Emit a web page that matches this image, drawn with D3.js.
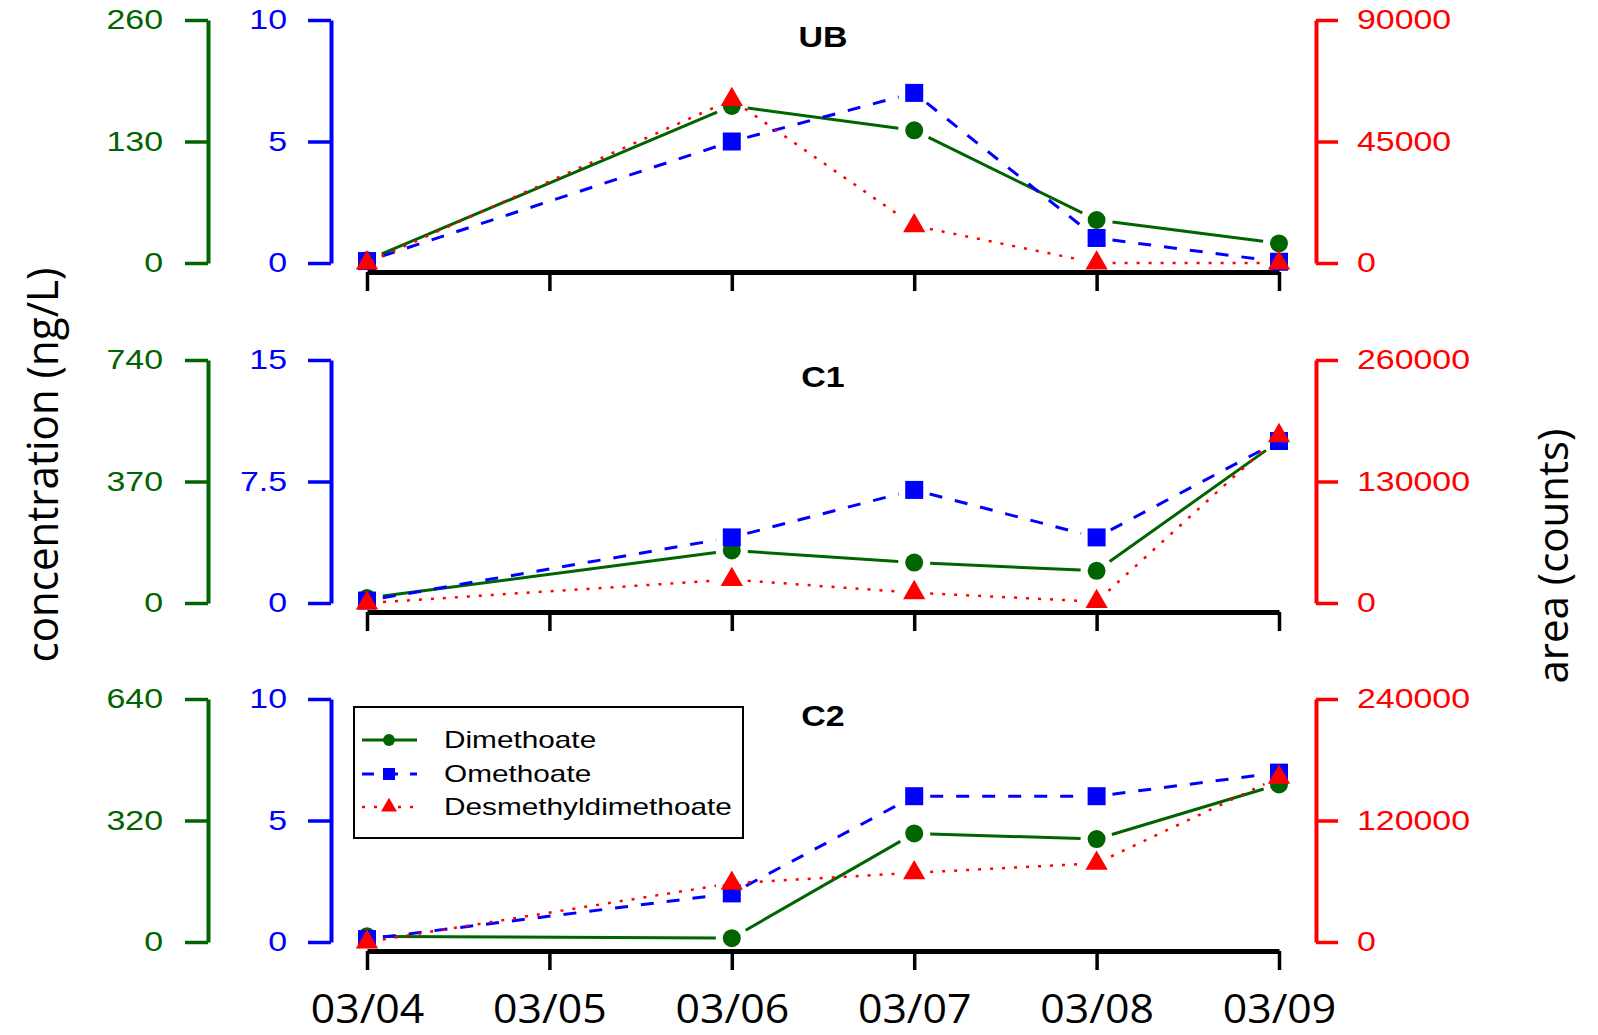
<!DOCTYPE html>
<html>
<head>
<meta charset="utf-8">
<script src="https://cdn.jsdelivr.net/npm/d3@7"></script>
<style>
  body { margin: 0; background: #fff; }
  svg { display: block; }
  text { font-family: "Liberation Sans", Arial, sans-serif; }
</style>
</head>
<body>
<script>
// sampling days (03/05 has no sample)
const dates = ["03/04", "03/05", "03/06", "03/07", "03/08", "03/09"]
const sampled = ["03/04", "03/06", "03/07", "03/08", "03/09"]
const sites = ["UB", "C1", "C2"]
const seriesNames = ["Dimethoate", "Omethoate", "Desmethyldimethoate"]

// axis maxima per site (left green, left blue, right red)
const greenMax = [260, 740, 640]
const blueMax = [10, 15, 10]
const redMax = [90000, 260000, 240000]

// values
const ubDimethoate = [3, 168, 142, 46, 21]
const ubOmethoate = [0.08, 5.0, 7.0, 1.03, 0.05]
const ubDesmethyl = [0, 60500, 13800, 0, 0]

const c1Dimethoate = [15, 160, 123, 98, 493]
const c1Omethoate = [0.15, 4.05, 6.98, 4.05, 10.0]
const c1Desmethyl = [0, 25000, 11000, 1500, 179000]

const c2Dimethoate = [15, 10, 286, 271, 415]
const c2Omethoate = [0.12, 2.0, 6.0, 6.0, 6.97]
const c2Desmethyl = [0, 58000, 68400, 77700, 162700]

const width = 1598, height = 1035
const panelTops = [20, 360, 699]
const panelH = 243
const green = '#006400', blue = '#0000ff', red = '#ff0000'

const svg = d3.select('body').append('svg')
  .attr('width', width)
  .attr('height', height)

const x = d3.scalePoint().domain(dates).range([367, 1279])

const panels = [
  {site: sites[0], vals: [ubDimethoate, ubOmethoate, ubDesmethyl]},
  {site: sites[1], vals: [c1Dimethoate, c1Omethoate, c1Desmethyl]},
  {site: sites[2], vals: [c2Dimethoate, c2Omethoate, c2Desmethyl]}
]

const styles = [
  {color: green, width: 3, dash: null, symbol: d3.symbolCircle, size: 254},
  {color: blue, width: 3, dash: '13,13', symbol: d3.symbolSquare, size: 324},
  {color: red, width: 2.5, dash: '3,9', symbol: d3.symbolTriangle, size: 215}
]

// the original figure is a bit wider than tall, so widen the text
function stretch(sel, k) {
  sel.each(function() {
    const w = this.getComputedTextLength()
    d3.select(this).attr('textLength', w * k).attr('lengthAdjust', 'spacingAndGlyphs')
  })
}

// R type="b" style: line segments stop short of the points
function gapped(pts, gap) {
  let segs = []
  for (let i = 0; i < pts.length - 1; i++) {
    const [x1, y1] = pts[i], [x2, y2] = pts[i + 1]
    const len = Math.hypot(x2 - x1, y2 - y1)
    if (len <= 2 * gap) continue
    const ux = (x2 - x1) / len, uy = (y2 - y1) / len
    segs.push([x1 + ux * gap, y1 + uy * gap, x2 - ux * gap, y2 - uy * gap])
  }
  return segs
}

function styleAxis(g, color, w) {
  g.select('.domain').attr('stroke', color).attr('stroke-width', w)
  g.selectAll('.tick line').attr('stroke', color).attr('stroke-width', 3.5)
  g.selectAll('.tick text').attr('fill', color).attr('font-size', 28)
  stretch(g.selectAll('.tick text'), 1.21)
}

panels.forEach((p, i) => {
  const top = panelTops[i]
  const zero = top + panelH
  const yG = d3.scaleLinear().domain([0, greenMax[i]]).range([zero, top])
  const yB = d3.scaleLinear().domain([0, blueMax[i]]).range([zero, top])
  const yR = d3.scaleLinear().domain([0, redMax[i]]).range([zero, top])
  const scales = [yG, yB, yR]

  const gG = svg.append('g').attr('transform', `translate(208,0)`)
    .call(d3.axisLeft(yG).tickValues([0, greenMax[i] / 2, greenMax[i]])
      .tickSize(23).tickSizeOuter(0).tickPadding(22).tickFormat(d => String(d)))
  styleAxis(gG, green, 4)

  const gB = svg.append('g').attr('transform', `translate(331,0)`)
    .call(d3.axisLeft(yB).tickValues([0, blueMax[i] / 2, blueMax[i]])
      .tickSize(23).tickSizeOuter(0).tickPadding(21).tickFormat(d => String(d)))
  styleAxis(gB, blue, 4)

  const gR = svg.append('g').attr('transform', `translate(1316,0)`)
    .call(d3.axisRight(yR).tickValues([0, redMax[i] / 2, redMax[i]])
      .tickSize(22).tickSizeOuter(0).tickPadding(19).tickFormat(d => String(d)))
  styleAxis(gR, red, 4)

  const gX = svg.append('g').attr('transform', `translate(0,${zero + 9})`)
    .call(d3.axisBottom(x).tickSize(19).tickSizeOuter(0))
  gX.select('.domain').attr('stroke', '#000').attr('stroke-width', 5)
  gX.selectAll('.tick line').attr('stroke', '#000').attr('stroke-width', 3.5)
  if (i === 2) {
    const lab = gX.selectAll('.tick text')
      .attr('fill', '#000')
      .attr('y', 1023 - (zero + 9))
      .attr('dy', null)
      .style('font-family', '"Open Sans", sans-serif')
      .attr('font-size', 40)
    stretch(lab, 1.07)
  } else {
    gX.selectAll('.tick text').remove()
  }

  const title = svg.append('text')
    .attr('x', 823).attr('y', top + 27)
    .attr('text-anchor', 'middle')
    .attr('font-weight', 'bold')
    .attr('font-size', 29)
    .text(p.site)
  stretch(title, 1.17)

  // lines first, then markers (green, blue, red on top)
  p.vals.forEach((vals, k) => {
    const st = styles[k]
    const pts = sampled.map((d, j) => [x(d), scales[k](vals[j])])
    svg.append('g').selectAll('line')
      .data(gapped(pts, 16))
      .join('line')
      .attr('x1', d => d[0]).attr('y1', d => d[1])
      .attr('x2', d => d[2]).attr('y2', d => d[3])
      .attr('stroke', st.color)
      .attr('stroke-width', st.width)
      .attr('stroke-dasharray', st.dash)
  })
  p.vals.forEach((vals, k) => {
    const st = styles[k]
    svg.append('g').selectAll('path')
      .data(sampled.map((d, j) => [x(d), scales[k](vals[j])]))
      .join('path')
      .attr('transform', d => `translate(${d[0]},${d[1]})`)
      .attr('d', d3.symbol().type(st.symbol).size(st.size))
      .attr('fill', st.color)
  })
})

// axis titles
svg.append('text')
  .attr('transform', 'translate(58,465) rotate(-90)')
  .attr('text-anchor', 'middle')
  .style('font-family', '"Open Sans", sans-serif')
  .attr('font-size', 43)
  .attr('textLength', 395)
  .attr('lengthAdjust', 'spacingAndGlyphs')
  .text('concentration (ng/L)')

svg.append('text')
  .attr('transform', 'translate(1568,556) rotate(-90)')
  .attr('text-anchor', 'middle')
  .style('font-family', '"Open Sans", sans-serif')
  .attr('font-size', 42)
  .attr('textLength', 255)
  .attr('lengthAdjust', 'spacingAndGlyphs')
  .text('area (counts)')

// legend
const legend = svg.append('g')
legend.append('rect')
  .attr('x', 354).attr('y', 707)
  .attr('width', 389).attr('height', 131)
  .attr('fill', '#fff').attr('stroke', '#000').attr('stroke-width', 2)

const legendY = [740, 774, 807]
const legendSizes = [110, 144, 110]
seriesNames.forEach((name, k) => {
  const st = styles[k]
  legend.append('line')
    .attr('x1', 362).attr('x2', 417)
    .attr('y1', legendY[k]).attr('y2', legendY[k])
    .attr('stroke', st.color)
    .attr('stroke-width', st.width)
    .attr('stroke-dasharray', k === 1 ? '12,12' : st.dash)
  legend.append('path')
    .attr('transform', `translate(389,${legendY[k]})`)
    .attr('d', d3.symbol().type(st.symbol).size(legendSizes[k]))
    .attr('fill', st.color)
  const t = legend.append('text')
    .attr('x', 444).attr('y', legendY[k])
    .attr('dy', '0.35em')
    .attr('font-size', 24)
    .text(name)
  stretch(t, 1.24)
})
</script>
</body>
</html>
